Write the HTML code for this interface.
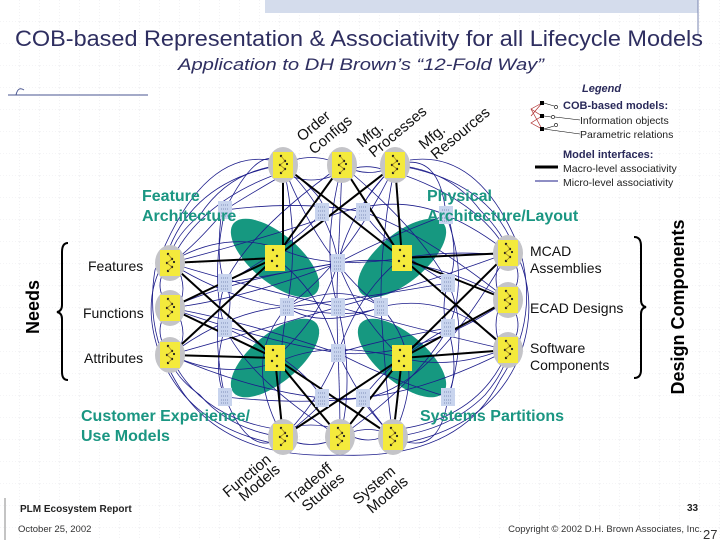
<!DOCTYPE html>
<html><head><meta charset="utf-8"><style>
html,body{margin:0;padding:0;background:#fff}
svg{display:block}
text{font-family:"Liberation Sans",sans-serif}
</style></head><body>
<svg width="720" height="540" viewBox="0 0 720 540" xmlns="http://www.w3.org/2000/svg">
<defs>
<pattern id="grid" width="20" height="22" patternUnits="userSpaceOnUse">
<path d="M20 0V22M0 22H20" stroke="#d4d4dc" stroke-width="0.6" stroke-dasharray="1,2" fill="none"/>
</pattern>
<g id="yn">
<ellipse cx="0" cy="0" rx="15" ry="18" fill="#c4c4c8"/>
<rect x="-10" y="-13" width="20" height="26" fill="#f4ea3c"/>
<g fill="#222"><circle cx="-2" cy="-9" r="1.2"/><circle cx="2" cy="-4" r="1.2"/><circle cx="-3" cy="0" r="1.2"/><circle cx="2" cy="4" r="1.2"/><circle cx="-2" cy="8" r="1.2"/><circle cx="4" cy="-1" r="1.1"/></g>
<path d="M-2 -9L2 -4L-3 0L2 4L-2 8" stroke="#8a6a20" stroke-width="0.6" fill="none"/>
</g>
<g id="bn">
<rect x="-7" y="-9" width="14" height="18" fill="#c8d4ee"/>
<path d="M-4 -5H4M-4 -1H4M-4 3H4M-4 6H4" stroke="#6a78a8" stroke-width="0.8" stroke-dasharray="1,1"/>
</g>
</defs>
<rect width="720" height="540" fill="#fff"/>
<rect width="720" height="540" fill="url(#grid)"/>
<rect x="265" y="0" width="433" height="13" fill="#d4dcec"/>
<line x1="698" y1="0" x2="698" y2="35" stroke="#7a86b0" stroke-width="1"/>
<text x="15" y="46" font-size="22" fill="#2e2e60" textLength="688" lengthAdjust="spacingAndGlyphs">COB-based Representation &amp; Associativity for all Lifecycle Models</text>
<text x="178" y="70" font-size="17" font-style="italic" fill="#2e2e60" textLength="366" lengthAdjust="spacingAndGlyphs">Application to DH Brown’s “12-Fold Way”</text>
<line x1="8" y1="95" x2="148" y2="95" stroke="#4a5690" stroke-width="1"/>
<path d="M16 95 Q18 86 24 90" stroke="#4a5690" fill="none"/>

<!-- teal ellipses -->
<g fill="#169880">
<ellipse cx="275" cy="258" rx="54" ry="24" transform="rotate(40 275 258)"/>
<ellipse cx="402" cy="258" rx="54" ry="24" transform="rotate(-40 402 258)"/>
<ellipse cx="275" cy="358" rx="54" ry="24" transform="rotate(-40 275 358)"/>
<ellipse cx="402" cy="358" rx="54" ry="24" transform="rotate(40 402 358)"/>
</g>

<!-- micro blue lines -->
<g stroke="#1c1c8a" stroke-width="0.8" fill="none">
<path d="M283 165 Q230 170 200 215 Q170 240 170 263"/>
<path d="M395 165 Q450 170 480 210 Q505 235 508 253"/>
<path d="M283 437 Q230 430 200 395 Q172 375 170 355"/>
<path d="M393 437 Q450 430 485 395 Q506 370 508 350"/>
<path d="M283 165 Q190 180 165 260 Q140 300 160 355 Q190 430 283 445"/>
<path d="M395 165 Q490 180 515 250 Q540 300 520 355 Q490 430 393 445"/>
<path d="M270 160 Q200 150 155 270 Q145 330 175 380 Q220 460 340 455 Q460 460 500 380 Q540 320 520 250 Q480 150 410 160"/>
<path d="M283 175 Q240 200 225 210 Q200 240 178 258"/>
<path d="M283 165 Q310 150 342 165 Q370 180 395 165"/>
<path d="M283 172 Q310 188 342 172 Q370 160 395 175"/>
<path d="M283 437 Q310 452 340 437 Q370 422 393 437"/>
<path d="M283 430 Q310 420 340 430 Q370 450 393 430"/>
<path d="M170 263 Q150 285 170 308 Q150 330 170 355"/>
<path d="M176 265 Q190 290 176 310 Q190 335 176 355"/>
<path d="M508 253 Q528 275 508 300 Q528 325 508 350"/>
<path d="M502 255 Q490 280 502 300 Q490 325 502 350"/>
<path d="M170 263 Q260 240 342 212 Q400 195 446 215 Q480 230 508 253"/>
<path d="M170 308 Q230 280 338 263 Q420 250 508 300"/>
<path d="M170 355 Q260 330 338 307 Q420 285 508 253"/>
<path d="M170 263 Q260 290 338 307 Q420 330 508 350"/>
<path d="M170 308 Q260 340 338 353 Q420 360 508 300"/>
<path d="M170 355 Q250 390 322 398 Q400 405 508 350"/>
<path d="M283 165 Q300 240 287 307 Q275 380 283 437"/>
<path d="M342 165 Q320 250 338 307 Q355 380 340 437"/>
<path d="M395 165 Q380 240 381 307 Q385 380 393 437"/>
<path d="M283 165 Q320 260 381 307 Q430 360 393 437"/>
<path d="M395 165 Q350 260 287 307 Q240 360 283 437"/>
<path d="M342 165 Q420 230 448 283 Q470 330 448 397"/>
<path d="M342 165 Q250 230 225 283 Q210 330 225 397"/>
<path d="M340 437 Q420 380 448 328 Q470 280 446 215"/>
<path d="M340 437 Q250 380 225 328 Q210 280 225 210"/>
<path d="M225 210 Q300 200 363 212 Q420 230 508 300"/>
<path d="M225 397 Q300 405 363 398 Q430 390 508 253"/>
<path d="M170 263 Q230 300 287 307 Q350 320 381 307 Q450 290 508 350"/>
<path d="M170 355 Q230 310 287 307 Q350 300 448 283"/>
<path d="M170 308 Q240 300 338 263 Q380 240 446 215"/>
<path d="M170 308 Q240 320 338 353 Q390 380 448 397"/>
<path d="M283 165 Q330 200 322 212 Q300 240 225 283"/>
<path d="M395 165 Q360 200 363 212 Q390 250 448 283"/>
<path d="M283 437 Q330 400 322 398 Q300 360 225 328"/>
<path d="M393 437 Q360 400 363 398 Q390 360 448 328"/>
<path d="M178 258 Q230 230 283 250 Q330 270 402 258 Q450 250 502 255"/>
<path d="M178 358 Q230 380 283 360 Q330 340 402 358 Q450 370 502 350"/>
<path d="M222 210 Q215 260 225 283 Q235 300 225 328 Q212 370 225 397"/>
<path d="M448 215 Q460 260 448 283 Q440 310 448 328 Q460 370 448 397"/>
<path d="M283 165 Q260 140 225 210"/>
<path d="M395 165 Q440 150 446 215"/>
<path d="M283 437 Q250 460 225 397"/>
<path d="M393 437 Q440 460 448 397"/>
<path d="M342 165 Q340 220 338 263 Q336 300 338 353 Q340 400 340 437"/>
<path d="M275 258 Q320 290 338 353 Q360 400 393 437"/>
<path d="M402 258 Q360 290 338 353 Q320 400 283 437"/>
<path d="M275 358 Q320 320 338 263 Q350 210 395 165"/>
<path d="M402 358 Q360 320 338 263 Q330 210 283 165"/>
<path d="M170 263 Q200 200 283 172"/>
<path d="M508 253 Q480 200 395 172"/>
<path d="M170 355 Q200 420 283 430"/>
<path d="M508 350 Q480 420 393 430"/>
<path d="M287 307 Q320 330 381 307 Q340 280 287 307"/>
<path d="M225 283 Q300 270 338 263"/>
<path d="M448 328 Q380 340 338 353"/>
</g>

<!-- macro black lines -->
<g stroke="#000" stroke-width="2">
<path d="M283 165L283 250M283 165L402 258M342 165L275 258M342 165L402 258M395 165L275 258M395 165L402 258"/>
<path d="M170 263L275 258M170 263L275 358M170 308L275 258M170 308L275 358M170 355L275 258M170 355L275 358"/>
<path d="M508 253L402 258M508 253L402 358M508 300L402 258M508 300L402 358M508 350L402 258M508 350L402 358"/>
<path d="M283 437L275 358M283 437L402 358M340 437L275 358M340 437L402 358M393 437L275 358M393 437L402 358"/>
</g>

<!-- nodes -->
<use href="#yn" x="283" y="165"/><use href="#yn" x="342" y="165"/><use href="#yn" x="395" y="165"/>
<use href="#yn" x="170" y="263"/><use href="#yn" x="170" y="308"/><use href="#yn" x="170" y="355"/>
<use href="#yn" x="508" y="253"/><use href="#yn" x="508" y="300"/><use href="#yn" x="508" y="350"/>
<use href="#yn" x="283" y="437"/><use href="#yn" x="340" y="437"/><use href="#yn" x="393" y="437"/>
<g transform="translate(0 0)">
<rect x="265" y="245" width="20" height="26" fill="#f4ea3c"/><rect x="392" y="245" width="20" height="26" fill="#f4ea3c"/>
<rect x="265" y="345" width="20" height="26" fill="#f4ea3c"/><rect x="392" y="345" width="20" height="26" fill="#f4ea3c"/>
<g fill="#222"><circle cx="273" cy="250" r="1.2"/><circle cx="277" cy="256" r="1.2"/><circle cx="272" cy="261" r="1.2"/><circle cx="277" cy="266" r="1.2"/>
<circle cx="400" cy="250" r="1.2"/><circle cx="404" cy="256" r="1.2"/><circle cx="399" cy="261" r="1.2"/><circle cx="404" cy="266" r="1.2"/>
<circle cx="273" cy="350" r="1.2"/><circle cx="277" cy="356" r="1.2"/><circle cx="272" cy="361" r="1.2"/><circle cx="277" cy="366" r="1.2"/>
<circle cx="400" cy="350" r="1.2"/><circle cx="404" cy="356" r="1.2"/><circle cx="399" cy="361" r="1.2"/><circle cx="404" cy="366" r="1.2"/></g>
</g>
<use href="#bn" x="225" y="210"/><use href="#bn" x="322" y="212"/><use href="#bn" x="363" y="212"/><use href="#bn" x="446" y="215"/>
<use href="#bn" x="225" y="283"/><use href="#bn" x="448" y="283"/><use href="#bn" x="338" y="263"/>
<use href="#bn" x="287" y="307"/><use href="#bn" x="338" y="307"/><use href="#bn" x="381" y="307"/>
<use href="#bn" x="225" y="328"/><use href="#bn" x="448" y="328"/><use href="#bn" x="338" y="353"/>
<use href="#bn" x="225" y="397"/><use href="#bn" x="322" y="398"/><use href="#bn" x="363" y="398"/><use href="#bn" x="448" y="397"/>

<!-- group labels -->
<g fill="#1a9682" font-weight="bold" font-size="16">
<text x="142" y="201">Feature</text><text x="142" y="221">Architecture</text>
<text x="427" y="201">Physical</text><text x="427" y="221">Architecture/Layout</text>
<text x="81" y="421">Customer Experience/</text><text x="81" y="441">Use Models</text>
<text x="420" y="421">Systems Partitions</text>
</g>
<g font-size="14" fill="#111">
<text x="88" y="271">Features</text><text x="83" y="318">Functions</text><text x="84" y="363">Attributes</text>
<text x="530" y="256">MCAD</text><text x="530" y="273">Assemblies</text>
<text x="530" y="313">ECAD Designs</text>
<text x="530" y="353">Software</text><text x="530" y="370">Components</text>
</g>
<g font-size="15" fill="#111">
<text transform="translate(302 142) rotate(-40)">Order</text><text transform="translate(314 155) rotate(-40)">Configs</text>
<text transform="translate(362 148) rotate(-40)">Mfg.</text><text transform="translate(374 158) rotate(-40)">Processes</text>
<text transform="translate(424 150) rotate(-40)">Mfg.</text><text transform="translate(436 160) rotate(-40)">Resources</text>
<text transform="translate(228 498) rotate(-40)">Function</text><text transform="translate(244 502) rotate(-40)">Models</text>
<text transform="translate(291 505) rotate(-40)">Tradeoff</text><text transform="translate(307 512) rotate(-40)">Studies</text>
<text transform="translate(358 505) rotate(-40)">System</text><text transform="translate(372 514) rotate(-40)">Models</text>
</g>
<text transform="translate(39 307) rotate(-90)" font-size="18" font-weight="bold" text-anchor="middle">Needs</text>
<text transform="translate(684 307) rotate(-90)" font-size="18" font-weight="bold" text-anchor="middle">Design Components</text>
<path d="M68 243 Q62 243 62 252 L62 305 Q62 311 57 312 Q62 313 62 319 L62 372 Q62 380 68 380" stroke="#000" stroke-width="2" fill="none"/>
<path d="M634 237 Q641 237 641 246 L641 300 Q641 306 646 307 Q641 308 641 314 L641 370 Q641 378 634 378" stroke="#000" stroke-width="2" fill="none"/>

<!-- legend -->
<text x="582" y="92" font-size="11" font-style="italic" font-weight="bold" fill="#2a2a5a">Legend</text>
<g stroke="#b03030" stroke-width="0.7" fill="none">
<path d="M542 103L531 109L542 116L531 123L542 129M542 103L531 116M531 109L542 129"/>
</g>
<g fill="#000"><rect x="540" y="101" width="4" height="4"/><rect x="540" y="114" width="4" height="4"/><rect x="540" y="127" width="4" height="4"/></g>
<g stroke="#000" stroke-width="0.6" fill="none"><circle cx="556" cy="107" r="1.6"/><circle cx="553" cy="117" r="1.6"/><circle cx="556" cy="125" r="1.6"/>
<path d="M544 103L554 106M544 116L551 117M555 117L580 120M544 129L580 134M544 129L554 126"/></g>
<text x="563" y="109" font-size="11" font-weight="bold" fill="#2a2a5a">COB-based models:</text>
<text x="580" y="124" font-size="10.5" fill="#222">Information objects</text>
<text x="580" y="138" font-size="10.5" fill="#222">Parametric relations</text>
<text x="563" y="158" font-size="11" font-weight="bold" fill="#2a2a5a">Model interfaces:</text>
<line x1="535" y1="167" x2="558" y2="167" stroke="#000" stroke-width="3"/>
<text x="563" y="172" font-size="10.5" fill="#222">Macro-level associativity</text>
<line x1="535" y1="181" x2="558" y2="181" stroke="#1c1c8a" stroke-width="1"/>
<text x="563" y="186" font-size="10.5" fill="#222">Micro-level associativity</text>

<!-- footer -->
<line x1="5" y1="498" x2="5" y2="540" stroke="#888" stroke-width="1"/>
<text x="20" y="512" font-size="10" font-weight="bold" fill="#222">PLM Ecosystem Report</text>
<text x="18" y="532" font-size="9.5" fill="#333">October 25, 2002</text>
<text x="687" y="511" font-size="10" font-weight="bold" fill="#222">33</text>
<text x="702" y="532" font-size="9.5" fill="#333" text-anchor="end">Copyright © 2002 D.H. Brown Associates, Inc.</text>
<text x="703" y="539" font-size="13" fill="#333">27</text>
</svg>
</body></html>
